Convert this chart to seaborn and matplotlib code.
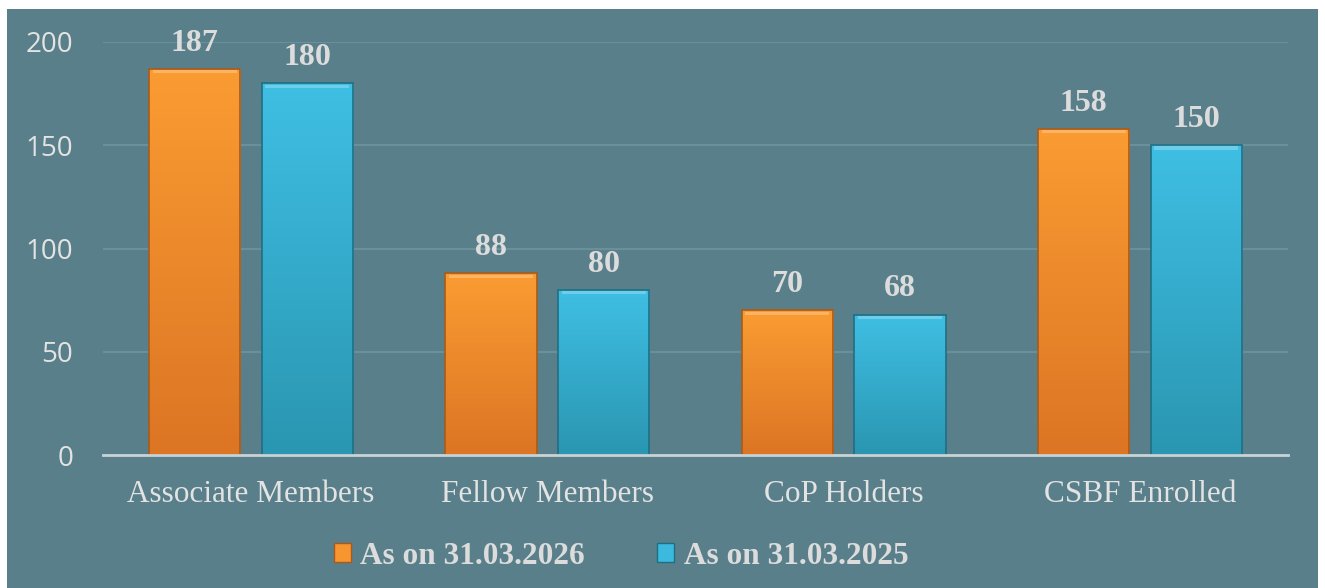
import numpy as np
import pandas as pd
import matplotlib
matplotlib.use('Agg')
import matplotlib.pyplot as plt
import seaborn as sns
from matplotlib.patches import Rectangle, Patch
from matplotlib.colors import LinearSegmentedColormap

# Chart data
categories = ['Associate Members', 'Fellow Members', 'CoP Holders', 'CSBF Enrolled']
series_names = ['As on 31.03.2026', 'As on 31.03.2025']
values_2026 = [187, 88, 70, 158]
values_2025 = [180, 80, 68, 150]
y_ticks = [0, 50, 100, 150, 200]

bg = '#587f8a'
txt = '#e3e3e3'
colors = {'As on 31.03.2026': '#f7952f', 'As on 31.03.2025': '#3bb9de'}
grad = {'As on 31.03.2026': ('#fa9c32', '#dc7524'),
        'As on 31.03.2025': ('#3fbfe4', '#2a96b1')}
edges = {'As on 31.03.2026': '#a85a1c', 'As on 31.03.2025': '#1f6f84'}

df = pd.DataFrame({
    'category': categories * 2,
    'series': [series_names[0]] * 4 + [series_names[1]] * 4,
    'value': values_2026 + values_2025,
})

sns.set_style('white')
plt.rcParams['font.family'] = ['Liberation Serif', 'DejaVu Serif']

fig = plt.figure(figsize=(13.25, 5.88), dpi=100)
fig.patch.set_facecolor('white')
fig.patches.append(Rectangle((7 / 1325, 0), 1311 / 1325, 579 / 588,
                             transform=fig.transFigure, facecolor=bg,
                             edgecolor='none', zorder=-10))

ax = fig.add_axes([103 / 1325, 133 / 588, 1185 / 1325, 413 / 588])
ax.set_facecolor('none')

sns.barplot(data=df, x='category', y='value', hue='series',
            hue_order=series_names, order=categories, palette=colors,
            width=0.76, gap=0.19, legend=False, ax=ax, zorder=3)

# gradient fill inside each bar
n = len(categories)
for i, bar in enumerate(list(ax.patches)):
    s = series_names[i // n]
    x0, w, h = bar.get_x(), bar.get_width(), bar.get_height()
    cmap = LinearSegmentedColormap.from_list('g', [grad[s][1], grad[s][0]])
    g = np.linspace(0, 1, 256).reshape(-1, 1)
    im = ax.imshow(g, extent=[x0, x0 + w, 0, h], origin='lower',
                   aspect='auto', cmap=cmap, zorder=3.5)
    im.set_clip_path(bar)
    bar.set_edgecolor(edges[s])
    bar.set_linewidth(1.2)
    bar.set_zorder(4)
    bar.set_facecolor('none')
    # light bevel on top
    ax.add_patch(Rectangle((x0 + w * 0.04, h - 2.2), w * 0.92, 1.6,
                           facecolor='white', alpha=0.25, edgecolor='none',
                           zorder=4.5))
    ax.annotate(f'{int(h)}', (x0 + w / 2, h), xytext=(0, 8),
                textcoords='offset points', ha='center', va='bottom',
                fontsize=23, fontweight='bold', color='#dcdcdc')

ax.set_xlim(-0.5, n - 0.5)
ax.set_ylim(0, 200)
ax.set_yticks(y_ticks)
ax.set_yticklabels([str(t) for t in y_ticks], family='Open Sans',
                   fontsize=20, color=txt)
ax.set_xticks(range(n))
ax.set_xticklabels(categories, fontsize=22.5, color=txt)
ax.tick_params(axis='y', length=0, pad=21.5)
ax.tick_params(axis='x', length=0, pad=18)
ax.set_xlabel('')
ax.set_ylabel('')

ax.yaxis.grid(True, color='#6d939d', linewidth=1.3, zorder=1)
ax.set_axisbelow(True)
for side in ['top', 'right', 'left']:
    ax.spines[side].set_visible(False)
ax.spines['bottom'].set_color('#c9d3d6')
ax.spines['bottom'].set_linewidth(2)
ax.spines['bottom'].set_zorder(5)

handles = [Patch(facecolor=colors[s], edgecolor=edges[s], label=s)
           for s in series_names]
leg = fig.legend(handles=handles, loc='center', ncol=2,
                 bbox_to_anchor=(621 / 1325, 1 - 556 / 588), frameon=False,
                 prop={'size': 22.5, 'weight': 'bold'},
                 handlelength=0.55, handleheight=0.6, handletextpad=0.3,
                 columnspacing=2.3)
for t in leg.get_texts():
    t.set_color('#dcdcdc')

fig.savefig('out.png', dpi=100, facecolor='white')
